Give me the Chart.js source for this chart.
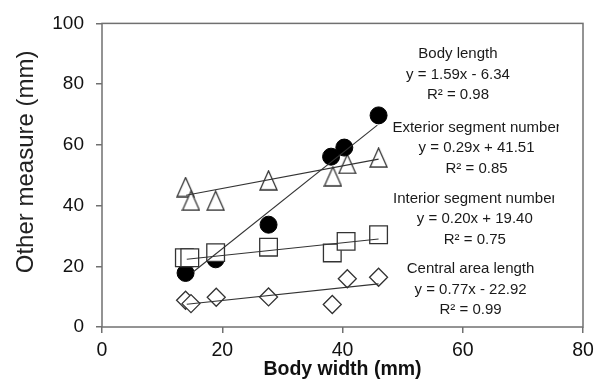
<!DOCTYPE html>
<html>
<head>
<meta charset="utf-8">
<script src="https://cdn.jsdelivr.net/npm/chart.js@4/dist/chart.umd.min.js"></script>
<style>
  html, body { margin: 0; padding: 0; background: #fff; }
  #wrap { width: 603px; height: 389px; }
</style>
</head>
<body>
<div id="wrap"><canvas id="chart" width="603" height="389"></canvas></div>
<script>
// axis ticks
const xTicks = [0, 20, 40, 60, 80];
const yTicks = [0, 20, 40, 60, 80, 100];

// body width (x) and measures
const bodyX = [13.9, 18.9, 27.7, 38.1, 40.3, 46.0];
const bodyLength = [17.8, 22.3, 33.7, 56.1, 59.1, 69.7];

const exteriorX = [13.9, 14.8, 18.9, 27.7, 38.4, 40.8, 46.0];
const exteriorSegments = [46.1, 41.6, 41.6, 48.3, 49.6, 53.7, 55.8];

const interiorX = [13.7, 14.6, 18.9, 27.7, 38.3, 40.6, 46.0];
const interiorSegments = [22.8, 22.8, 24.5, 26.3, 24.4, 28.2, 30.4];

const centralX = [13.9, 14.8, 19.0, 27.7, 38.3, 40.8, 46.0];
const centralLength = [8.8, 7.7, 9.8, 9.9, 7.4, 15.9, 16.4];

// fitted line end points
const bodyFitX = [15.2, 45.8];
const bodyFitY = [18.2, 66.5];
const exteriorFitX = [14.0, 46.0];
const exteriorFitY = [43.4, 55.3];
const interiorFitX = [14.1, 46.0];
const interiorFitY = [22.3, 29.0];
const centralFitX = [14.1, 46.0];
const centralFitY = [7.5, 14.2];

// annotation text
const fitNames = ["Body length", "Exterior segment number", "Interior segment number", "Central area length"];
const fitEquations = ["y = 1.59x - 6.34", "y = 0.29x + 41.51", "y = 0.20x + 19.40", "y = 0.77x - 22.92"];
const fitR2 = ["0.98", "0.85", "0.75", "0.99"];

const FONT = "'Liberation Sans', Arial, Helvetica, sans-serif";
const INK = "#222";
const AXIS = "#707070";

const pts = (xs, ys) => xs.map((x, i) => ({ x: x, y: ys[i] }));

// tall open triangle like the original marker
function makeTriangle() {
  const c = document.createElement("canvas");
  c.width = 19;
  c.height = 21;
  const g = c.getContext("2d");
  g.beginPath();
  g.moveTo(9.5, 1);
  g.lineTo(18, 20);
  g.lineTo(1, 20);
  g.closePath();
  g.fillStyle = "#fff";
  g.fill();
  g.lineWidth = 1.3;
  g.strokeStyle = "#333";
  g.stroke();
  return c;
}

const lineStyle = {
  type: "line",
  showLine: true,
  borderColor: "#333",
  borderWidth: 1.1,
  pointRadius: 0,
  fill: false,
  order: 0,
};

// box around plot area
const framePlugin = {
  id: "frame",
  beforeDatasetsDraw(chart) {
    const { ctx, chartArea: a } = chart;
    ctx.save();
    ctx.strokeStyle = AXIS;
    ctx.lineWidth = 1.5;
    ctx.strokeRect(a.left, a.top, a.right - a.left, a.bottom - a.top);
    ctx.restore();
  },
};

// equation blocks: [center x, first line y, clip x] in data units
const noteAnchors = [
  [59.2, 89.9, 90],
  [62.3, 65.6, 76.0],
  [62.0, 42.3, 75.2],
  [61.3, 19.1, 90],
];

const notesPlugin = {
  id: "notes",
  afterDatasetsDraw(chart) {
    const { ctx } = chart;
    const xs = chart.scales.x;
    const ys = chart.scales.y;
    ctx.save();
    ctx.font = "15px " + FONT;
    ctx.fillStyle = "#1a1a1a";
    ctx.textAlign = "center";
    ctx.textBaseline = "middle";
    noteAnchors.forEach((a, i) => {
      const cx = xs.getPixelForValue(a[0]);
      const top = ys.getPixelForValue(a[1]);
      const clipX = xs.getPixelForValue(a[2]);
      const lines = [fitNames[i], fitEquations[i], "R\u00B2 = " + fitR2[i]];
      ctx.save();
      ctx.beginPath();
      ctx.rect(0, 0, clipX, chart.height);
      ctx.clip();
      lines.forEach((t, k) => ctx.fillText(t, cx, top + k * 20.5));
      ctx.restore();
    });
    ctx.restore();
  },
};

new Chart(document.getElementById("chart"), {
  type: "scatter",
  data: {
    datasets: [
      Object.assign({ label: "Body length fit", data: pts(bodyFitX, bodyFitY) }, lineStyle),
      Object.assign({ label: "Exterior fit", data: pts(exteriorFitX, exteriorFitY) }, lineStyle),
      Object.assign({ label: "Interior fit", data: pts(interiorFitX, interiorFitY) }, lineStyle),
      Object.assign({ label: "Central fit", data: pts(centralFitX, centralFitY) }, lineStyle),
      {
        label: "Interior segment number",
        data: pts(interiorX, interiorSegments),
        pointStyle: "rect",
        pointRadius: 12.5,
        backgroundColor: "#fff",
        borderColor: "#333",
        borderWidth: 1.3,
        order: 1,
      },
      {
        label: "Body length",
        data: pts(bodyX, bodyLength),
        pointStyle: "circle",
        pointRadius: 8.5,
        backgroundColor: "#000",
        borderColor: "#000",
        borderWidth: 1,
        order: 2,
      },
      {
        label: "Exterior segment number",
        data: pts(exteriorX, exteriorSegments),
        pointStyle: makeTriangle(),
        pointRadius: 9,
        order: 3,
      },
      {
        label: "Central area length",
        data: pts(centralX, centralLength),
        pointStyle: "rectRot",
        pointRadius: 9,
        backgroundColor: "#fff",
        borderColor: "#333",
        borderWidth: 1.3,
        order: 3,
      },
    ],
  },
  options: {
    responsive: false,
    animation: false,
    devicePixelRatio: 1,
    layout: { padding: { left: 0, right: 20, top: 19, bottom: 0 } },
    plugins: {
      legend: { display: false },
      tooltip: { enabled: false },
    },
    scales: {
      x: {
        type: "linear",
        min: 0,
        max: 80,
        afterBuildTicks: (s) => { s.ticks = xTicks.map((v) => ({ value: v })); },
        afterFit: (s) => { s.height = 62; },
        border: { display: false },
        grid: { display: true, drawOnChartArea: false, drawTicks: true, tickLength: 6, color: AXIS, lineWidth: 1.5 },
        ticks: { color: "#111", padding: 6, font: { family: FONT, size: 19.5 } },
        title: {
          display: true,
          text: "Body width (mm)",
          color: "#111",
          padding: { top: 0, bottom: 8 },
          font: { family: FONT, size: 19.5, weight: "bold" },
        },
      },
      y: {
        type: "linear",
        min: 0,
        max: 100,
        afterBuildTicks: (s) => { s.ticks = yTicks.map((v) => ({ value: v })); },
        afterFit: (s) => { s.width = 102; },
        border: { display: false },
        grid: { display: true, drawOnChartArea: false, drawTicks: true, tickLength: 6, color: AXIS, lineWidth: 1.5 },
        ticks: { color: "#111", padding: 12, font: { family: FONT, size: 19 } },
        title: {
          display: true,
          text: "    Other measure (mm)",
          color: INK,
          padding: { top: 12, bottom: 0 },
          font: { family: FONT, size: 24 },
        },
      },
    },
  },
  plugins: [framePlugin, notesPlugin],
});
</script>
</body>
</html>
